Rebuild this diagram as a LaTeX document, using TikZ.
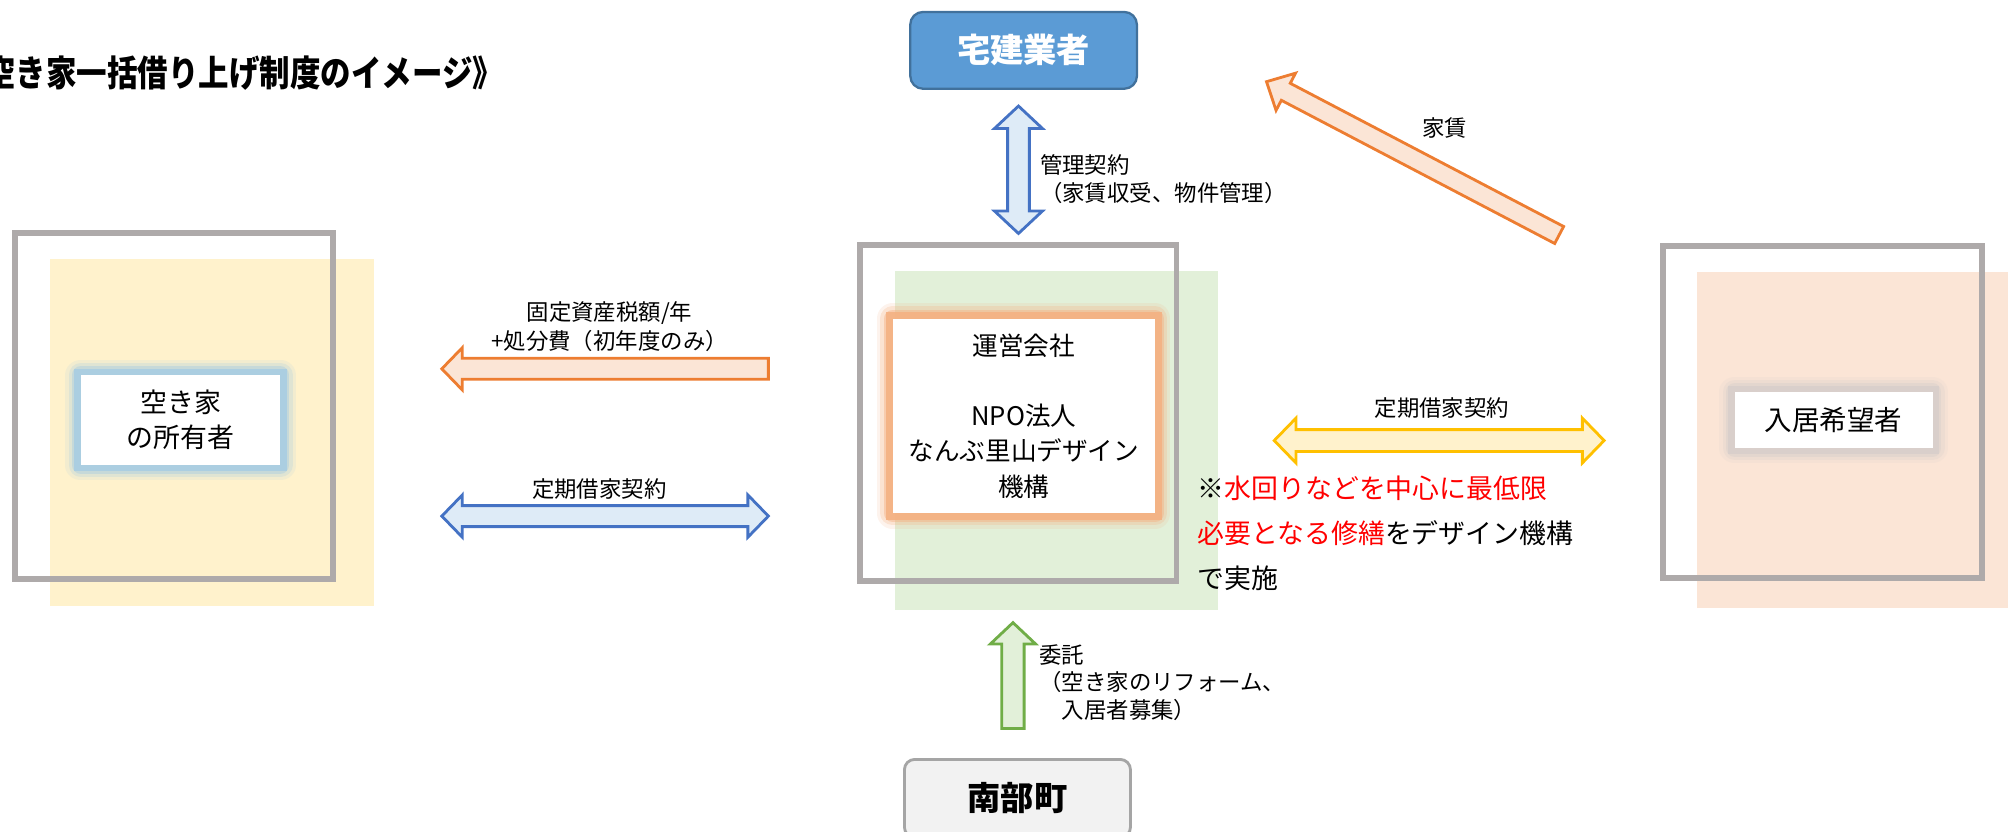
\documentclass[tikz,border=0pt]{standalone}
\usepackage{fontspec}
\setmainfont{Noto Sans CJK JP}
\newfontfamily\ttlfont[FakeStretch=0.85]{Noto Sans CJK JP}
\usetikzlibrary{calc}
\definecolor{framegray}{HTML}{AEAAAA}
\definecolor{yelfill}{HTML}{FFF2CC}
\definecolor{grnfill}{HTML}{E2F0D9}
\definecolor{pchfill}{HTML}{FBE5D6}
\definecolor{takken}{HTML}{5B9BD5}
\definecolor{takkenline}{HTML}{41719C}
\definecolor{nbfill}{HTML}{F2F2F2}
\definecolor{nbline}{HTML}{A5A5A5}
\definecolor{orline}{HTML}{ED7D31}
\definecolor{blline}{HTML}{4472C4}
\definecolor{blfill}{HTML}{DEEBF7}
\definecolor{ylline}{HTML}{FFC000}
\definecolor{gnline}{HTML}{70AD47}
\definecolor{glowor}{HTML}{F4B183}
\definecolor{glowbl}{HTML}{A9CDE2}
\definecolor{glowgr}{HTML}{D8CFCB}
\definecolor{redtxt}{HTML}{FF0000}
\begin{document}
\begin{tikzpicture}[x=1pt,y=-1pt,
  frame/.style={draw=framegray,line width=4.5pt},
  glow/.style={preaction={draw=#1,line width=24pt,opacity=0.15,line join=round},
               preaction={draw=#1,line width=19pt,opacity=0.25,line join=round},
               preaction={draw=#1,line width=14pt,opacity=0.45,line join=round},
               preaction={draw=#1,line width=10pt,opacity=0.9}},
  box/.style={fill=white,inner sep=0pt,align=center},
  lbl/.style={inner sep=0pt,font=\fontsize{17.5}{22}\selectfont},
  oarrow/.style={draw=orline,fill=pchfill,line width=2.2pt},
  barrow/.style={draw=blline,fill=blfill,line width=2.2pt},
  yarrow/.style={draw=ylline,fill=yelfill,line width=2.2pt},
  garrow/.style={draw=gnline,fill=grnfill,line width=2.2pt}]
\useasboundingbox (0,0) rectangle (1568,649);

% title
\node[anchor=east,inner sep=0pt,font=\ttlfont\bfseries\fontsize{28}{32}\selectfont] (title) at (393,57) {空き家一括借り上げ制度のイメージ》};

% background panels and frames
\fill[yelfill] (39,202) rectangle (292,473);
\fill[grnfill] (699,211.4) rectangle (951,476.5);
\fill[pchfill] (1325,212) rectangle (1575,475);
\draw[frame] (12,182) rectangle (260,452);
\draw[frame] (671.6,191.6) rectangle (918.6,453.8);
\draw[frame] (1298.6,191.9) rectangle (1547.7,451.2);

% main boxes
\node[box,glow=glowbl,minimum width=156pt,minimum height=70pt,font=\fontsize{21}{27}\selectfont] (owner) at (141,328) {空き家\\の所有者};
\node[box,glow=glowor,minimum width=205pt,minimum height=152pt,font=\fontsize{20}{27.5}\selectfont] (unei) at (799.5,324.8) {運営会社\\[27.5pt]NPO法人\\なんぶ里山デザイン\\機構};
\node[box,glow=glowgr,minimum width=154.5pt,minimum height=43.7pt,font=\fontsize{21.5}{26}\selectfont] (tenant) at (1431.8,327.9) {入居希望者};

\node[draw=takkenline,fill=takken,line width=1.8pt,rounded corners=10pt,minimum width=177pt,minimum height=60pt,text=white,font=\fontsize{26}{30}\selectfont\bfseries] (takken) at (799.3,39.3) {宅建業者};
\node[draw=nbline,fill=nbfill,line width=2.2pt,rounded corners=8pt,minimum width=176.5pt,minimum height=61pt,font=\fontsize{26}{30}\selectfont\bfseries] (nanbu) at (794.5,623.5) {南部町};

% arrows
% tax: orange single, pointing left
\coordinate (taxtip) at (345,288);
\coordinate (taxtail) at (600,288);
\draw[oarrow] (taxtip) -- ++(16,-16.5) -- ++(0,8.3) -- ($(taxtail)+(0,-8.2)$) -- ($(taxtail)+(0,8.2)$) -- ($(taxtip)+(16,8.2)$) -- ++(0,8.3) -- cycle;
% lease left: blue double
\coordinate (ll1) at (345,403);
\coordinate (ll2) at (600,403);
\draw[barrow] (ll1) -- ++(16,-16.5) -- ++(0,8.3) -- ($(ll2)+(-16,-8.2)$) -- ++(0,-8.3) -- (ll2) -- ++(-16,16.5) -- ++(0,-8.3) -- ($(ll1)+(16,8.2)$) -- ++(0,8.3) -- cycle;
% lease right: yellow double
\coordinate (lr1) at (995,344);
\coordinate (lr2) at (1252.6,344);
\draw[yarrow] (lr1) -- ++(17,-17.5) -- ++(0,9) -- ($(lr2)+(-17,-8.5)$) -- ++(0,-9) -- (lr2) -- ++(-17,17.5) -- ++(0,-9) -- ($(lr1)+(17,8.5)$) -- ++(0,9) -- cycle;
% management: vertical blue double
\coordinate (mg1) at (795.3,82.8);
\coordinate (mg2) at (795.3,182.3);
\draw[barrow] (mg1) -- ++(18.7,17.5) -- ++(-10.2,0) -- ($(mg2)+(8.5,-17.5)$) -- ++(10.2,0) -- (mg2) -- ++(-18.7,-17.5) -- ++(10.2,0) -- ($(mg1)+(-8.5,17.5)$) -- ++(-10.2,0) -- cycle;
% commission: green up arrow
\coordinate (cmtip) at (791,486.2);
\coordinate (cmtail) at (791,568.8);
\draw[garrow] (cmtip) -- ++(17.7,16.7) -- ++(-9,0) -- ($(cmtail)+(8.7,0)$) -- ($(cmtail)+(-8.7,0)$) -- ($(cmtip)+(-8.7,16.7)$) -- ++(-9,0) -- cycle;
% rent: diagonal orange arrow
\coordinate (rtail) at (1217.5,183.5);
\begin{scope}[shift={(rtail)},rotate=152.35]
\draw[oarrow] (0,-7.5) -- (241,-7.5) -- (241,-16.4) -- (258,0) -- (241,16.4) -- (241,7.5) -- (0,7.5) -- cycle;
\end{scope}

% labels
\node[lbl,align=center] (taxlbl) at (476,255) {固定資産税額/年\\+処分費（初年度のみ）};
\node[lbl] (lllbl) at (468,382) {定期借家契約};
\node[lbl] (lrlbl) at (1126,319) {定期借家契約};
\node[lbl,align=left,anchor=west] (mglbl) at (812,140) {管理契約\\（家賃収受、物件管理）};
\node[lbl] (rentlbl) at (1128,100) {家賃};
\node[lbl,align=left,anchor=west,font=\fontsize{17.5}{21.5}\selectfont] (cmlbl) at (811.5,533) {委託\\（空き家のリフォーム、\\　入居者募集）};
\node[inner sep=0pt,align=left,anchor=west,font=\fontsize{21}{35}\selectfont] (note) at (935,416.5) {※\textcolor{redtxt}{水回りなどを中心に最低限}\\\textcolor{redtxt}{必要となる修繕}をデザイン機構\\で実施};
\end{tikzpicture}
\end{document}
